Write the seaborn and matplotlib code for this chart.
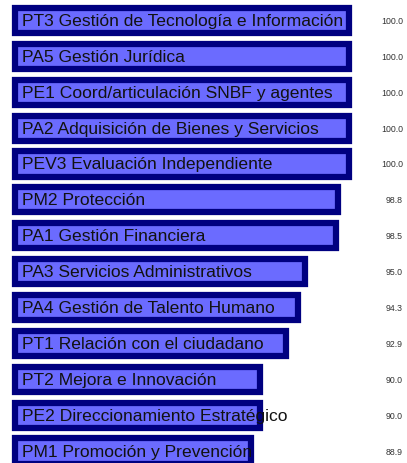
import numpy as np
import pandas as pd
import matplotlib
matplotlib.use("Agg")
import matplotlib.pyplot as plt
import seaborn as sns

procesos = [
    "PT3 Gestión de Tecnología e Información",
    "PA5 Gestión Jurídica",
    "PE1 Coord/articulación SNBF y agentes",
    "PA2 Adquisición de Bienes y Servicios",
    "PEV3 Evaluación Independiente",
    "PM2 Protección",
    "PA1 Gestión Financiera",
    "PA3 Servicios Administrativos",
    "PA4 Gestión de Talento Humano",
    "PT1 Relación con el ciudadano",
    "PT2 Mejora e Innovación",
    "PE2 Direccionamiento Estratégico",
    "PM1 Promoción y Prevención",
]
valores = [100.0, 100.0, 100.0, 100.0, 100.0, 98.8, 98.5, 95.0, 94.3, 92.9, 90.0, 90.0, 88.9]

FILL = "#6b6bff"
EDGE = "#000080"

df = pd.DataFrame({"proceso": procesos, "valor": valores})

sns.set_style("white")
plt.rcParams["font.family"] = ["Liberation Sans", "DejaVu Sans"]

fig = plt.figure(figsize=(4.07, 4.64), dpi=100)
ax = fig.add_axes([15 / 407, -6 / 464, 392 / 407, 466.5 / 464])

sns.barplot(data=df, x="valor", y="proceso", orient="h", color=FILL,
            saturation=1, width=0.70, edgecolor=EDGE, linewidth=4.5, ax=ax)

# eje x truncado: las barras arrancan en x0
x0 = 62.2
ax.set_xlim(x0, x0 + 392 / 8.83)
ax.set_ylim(len(procesos) - 0.5, -0.5)

for p in ax.patches:
    w = p.get_x() + p.get_width()
    p.set_x(x0)
    p.set_width(w - x0)
    p.set_clip_on(False)

for i, (txt, v) in enumerate(zip(procesos, valores)):
    ax.text(x0 + 0.8, i, txt, ha="left", va="center", fontsize=12.6,
            color="#111111", zorder=5)
    ax.text(x0 + 388 / 8.83, i, f"{v:.1f}", ha="right", va="center",
            fontsize=6.3, color="#333333", zorder=5)

ax.set_axis_off()
fig.savefig("out.png", dpi=100)
